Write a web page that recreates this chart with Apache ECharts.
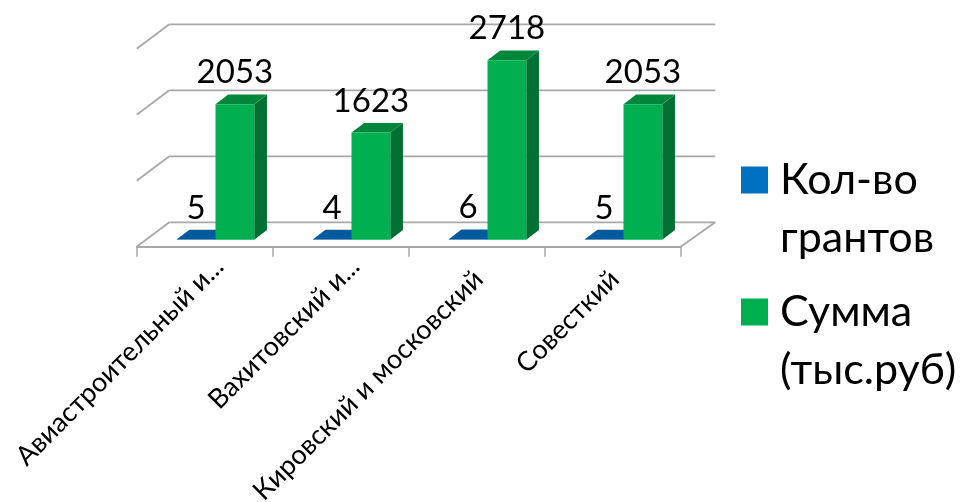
<!DOCTYPE html>
<html><head><meta charset="utf-8">
<style>html,body{margin:0;padding:0;background:#fff}#c{width:965px;height:502px}</style>
<script src="https://cdn.jsdelivr.net/npm/echarts@6/dist/echarts.min.js"></script>
</head><body><div id="c"></div>
<script>
const categories = ['Авиастроительный и...', 'Вахитовский и...', 'Кировский и московский', 'Совесткий'];
const grants = [5, 4, 6, 5];
const sums = [2053, 1623, 2718, 2053];
const gridValues = [0, 1000, 2000, 3000];
const seriesNames = ['Кол-во\nгрантов', 'Сумма\n(тыс.руб)'];

const FONT = 'Lato, Carlito, Calibri, "Open Sans", sans-serif';
const WALL_DX = 34.5, WALL_DY = -24.4;   // wall depth
const SHIFT_DX = 10.8, SHIFT_DY = -7;    // bars stand 30% into the floor
const BAR_DX = 12.7, BAR_DY = -9.7;      // bar depth
const BAR_W = 0.285;                     // fraction of a category band
const GREY = '#A8A8A8';

function poly(points, fill) {
  return {type: 'polygon', shape: {points}, style: {fill, stroke: null}};
}
function barRenderer(seriesIndex, front, side, top) {
  return function (params, api) {
    const cat = api.value(0), val = api.value(1);
    const base = api.coord([cat, 0]), head = api.coord([cat, val]);
    const band = api.size([1, 0])[0];
    const w = band * BAR_W;
    const x0 = base[0] + SHIFT_DX + (seriesIndex === 0 ? -w : 0);
    const x1 = x0 + w;
    const yb = base[1] + SHIFT_DY, yt = head[1] + SHIFT_DY;
    return {type: 'group', children: [
      poly([[x1, yb], [x1 + BAR_DX, yb + BAR_DY], [x1 + BAR_DX, yt + BAR_DY], [x1, yt]], side),
      poly([[x0, yt], [x1, yt], [x1 + BAR_DX, yt + BAR_DY], [x0 + BAR_DX, yt + BAR_DY]], top),
      poly([[x0, yb], [x1, yb], [x1, yt], [x0, yt]], front),
      {type: 'text', z2: 50, style: {
        text: String(val), x: (x0 + x1) / 2, y: yt - 31.5,
        align: 'center', verticalAlign: 'middle',
        fontFamily: FONT, fontSize: 33, fill: '#000'}}
    ]};
  };
}
function gridRenderer(params, api) {
  const v = api.value(0);
  const cs = params.coordSys;
  const y = api.coord([0, v])[1];
  const lineStyle = {stroke: GREY, lineWidth: 1.8, fill: null};
  const children = [
    {type: 'line', shape: {x1: cs.x + 32.6, y1: y + WALL_DY, x2: cs.x + cs.width + WALL_DX, y2: y + WALL_DY}, style: lineStyle},
    {type: 'line', shape: {x1: cs.x, y1: y, x2: cs.x + 32.6, y2: y + WALL_DY}, style: lineStyle}
  ];
  if (v === 0) {
    children.push({type: 'line', shape: {x1: cs.x + cs.width, y1: y, x2: cs.x + cs.width + WALL_DX, y2: y + WALL_DY}, style: lineStyle});
  }
  return {type: 'group', children};
}
const catRich = {fontFamily: FONT, fontSize: 27, color: '#000'};
function legendAt(name, top) {
  return {
    orient: 'vertical', left: 741, top, padding: 0, itemWidth: 27, itemHeight: 27, itemGap: 0,
    icon: 'rect', selectedMode: false, data: [name],
    formatter: n => '\n' + n.split('\n').map(s => '{a|' + s + '}').join('\n'),
    textStyle: {fontFamily: FONT, fontSize: 43, lineHeight: 58, color: '#000',
      rich: {a: {fontFamily: FONT, fontSize: 43, lineHeight: 58, color: '#000', padding: [0, 0, 0, 7]}}}
  };
}

const chart = echarts.init(document.getElementById('c'), null, {renderer: 'canvas'});
chart.setOption({
  animation: false,
  backgroundColor: '#fff',
  grid: {left: 136.7, top: 48.7, width: 544, height: 198, outerBoundsMode: 'none', containLabel: false},
  xAxis: {
    type: 'category', data: categories,
    axisLine: {lineStyle: {color: GREY, width: 1.8}},
    axisTick: {show: true, length: 10, lineStyle: {color: GREY, width: 1.5}},
    axisLabel: {
      interval: 0, rotate: 45, margin: 1, hideOverlap: false, padding: [41, 0, 0, 0],
      color: '#000', fontFamily: FONT, fontSize: 27,
      formatter: v => v.endsWith('...') ? '{t|' + v + '}' : '{r|' + v + '}',
      rich: {t: catRich, r: Object.assign({padding: [0, 18, 0, 0]}, catRich)}
    },
    splitLine: {show: false}
  },
  yAxis: {type: 'value', min: 0, max: 3000, interval: 1000, axisLine: {show: false}, axisTick: {show: false}, axisLabel: {show: false}, splitLine: {show: false}},
  legend: [legendAt(seriesNames[0], 93), legendAt(seriesNames[1], 225)],
  series: [
    {type: 'custom', name: 'grid', silent: true, clip: false, z: 1, data: gridValues.map(v => [v]), encode: {x: -1, y: 0}, renderItem: gridRenderer},
    {type: 'custom', name: seriesNames[0], clip: false, z: 2, itemStyle: {color: '#0070C0'},
      data: grants.map((v, i) => [i, v]), encode: {x: 0, y: 1},
      renderItem: barRenderer(0, '#005A9C', '#004A80', '#005A9C')},
    {type: 'custom', name: seriesNames[1], clip: false, z: 3, itemStyle: {color: '#00B050'},
      data: sums.map((v, i) => [i, v]), encode: {x: 0, y: 1},
      renderItem: barRenderer(1, '#00B050', '#007033', '#00873A')}
  ]
});
</script></body></html>
